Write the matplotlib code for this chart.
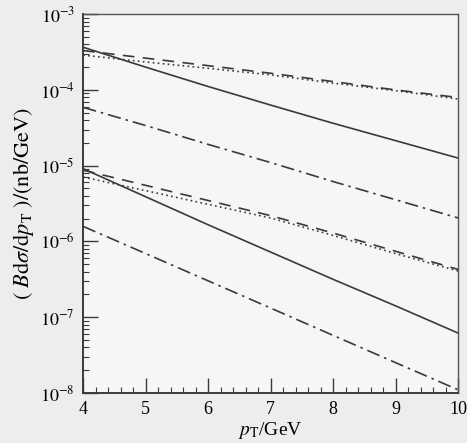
import matplotlib
matplotlib.use("Agg")
import matplotlib.pyplot as plt
from matplotlib.ticker import LogLocator, MultipleLocator, NullFormatter, FixedLocator

pt = [4, 5, 6, 7, 8, 9, 10]

# upper group
upper_solid   = [3.66e-4, 2.00e-4, 1.11e-4, 6.31e-5, 3.63e-5, 2.14e-5, 1.26e-5]
upper_dashed  = [3.31e-4, 2.63e-4, 2.09e-4, 1.66e-4, 1.29e-4, 1.00e-4, 7.94e-5]
upper_dotted  = [2.88e-4, 2.34e-4, 1.93e-4, 1.58e-4, 1.23e-4, 9.77e-5, 7.59e-5]
upper_dashdot = [5.89e-5, 3.39e-5, 1.91e-5, 1.10e-5, 6.17e-6, 3.55e-6, 2.04e-6]
# lower group
lower_solid   = [9.12e-6, 3.89e-6, 1.66e-6, 7.24e-7, 3.16e-7, 1.41e-7, 6.17e-8]
lower_dashed  = [8.71e-6, 5.50e-6, 3.47e-6, 2.19e-6, 1.29e-6, 7.41e-7, 4.27e-7]
lower_dotted  = [7.08e-6, 4.68e-6, 3.09e-6, 2.04e-6, 1.20e-6, 6.92e-7, 4.07e-7]
lower_dashdot = [1.58e-6, 6.92e-7, 3.02e-7, 1.32e-7, 5.75e-8, 2.51e-8, 1.10e-8]

xticks = [4, 5, 6, 7, 8, 9, 10]
yticks = [1e-8, 1e-7, 1e-6, 1e-5, 1e-4, 1e-3]
ytick_labels = [r"$10^{-8}$", r"$10^{-7}$", r"$10^{-6}$", r"$10^{-5}$", r"$10^{-4}$", r"$10^{-3}$"]

plt.rcParams['mathtext.fontset'] = 'stix'
plt.rcParams['font.family'] = ['Liberation Serif', 'DejaVu Serif']

fig = plt.figure(figsize=(4.67, 4.43), dpi=100, facecolor='#ededed')
ax = fig.add_axes([0.178, 0.113, 0.803, 0.855])
ax.set_facecolor('#f6f6f6')

lc = '#3a3a3a'
lw = 1.2
dashed_style = (0, (7, 5))
dotted_style = (0, (1, 2))
dashdot_style = (0, (8, 3, 1.5, 3))

ax.plot(pt, upper_solid, color=lc, lw=lw, ls='-')
ax.plot(pt, upper_dashed, color=lc, lw=lw, ls=dashed_style)
ax.plot(pt, upper_dotted, color=lc, lw=lw, ls=dotted_style)
ax.plot(pt, upper_dashdot, color=lc, lw=lw, ls=dashdot_style)
ax.plot(pt, lower_solid, color=lc, lw=lw, ls='-')
ax.plot(pt, lower_dashed, color=lc, lw=lw, ls=dashed_style)
ax.plot(pt, lower_dotted, color=lc, lw=lw, ls=dotted_style)
ax.plot(pt, lower_dashdot, color=lc, lw=lw, ls=dashdot_style)

ax.set_yscale('log')
ax.set_xlim(4, 10)
ax.set_ylim(1e-8, 1e-3)

ax.xaxis.set_major_locator(FixedLocator(xticks))
ax.xaxis.set_minor_locator(MultipleLocator(0.2))
ax.set_xticklabels([str(v) for v in xticks])
ax.yaxis.set_major_locator(FixedLocator(yticks))
ax.set_yticklabels(ytick_labels)
ax.yaxis.set_minor_locator(LogLocator(base=10, subs=range(2, 10), numticks=20))
ax.yaxis.set_minor_formatter(NullFormatter())

ax.tick_params(which='major', direction='in', length=11, width=1.0, color=lc,
               labelsize=13, top=False, right=False, pad=6)
ax.tick_params(which='minor', direction='in', length=4, width=0.8, color=lc,
               top=False, right=False)

for s in ax.spines.values():
    s.set_color('#555555')
    s.set_linewidth(1.0)
ax.spines['left'].set_linewidth(1.4)
ax.spines['bottom'].set_linewidth(1.4)
ax.spines['left'].set_color(lc)
ax.spines['bottom'].set_color(lc)

ax.set_xlabel(r"$p_{\mathrm{T}}$/GeV", fontsize=14, labelpad=1)
ax.set_ylabel(r"$(\ B\mathrm{d}\sigma/\mathrm{d}p_{\mathrm{T}}\ )/(\mathrm{nb/GeV})$", fontsize=16, labelpad=3)

fig.savefig('out.png', dpi=100, facecolor=fig.get_facecolor())
